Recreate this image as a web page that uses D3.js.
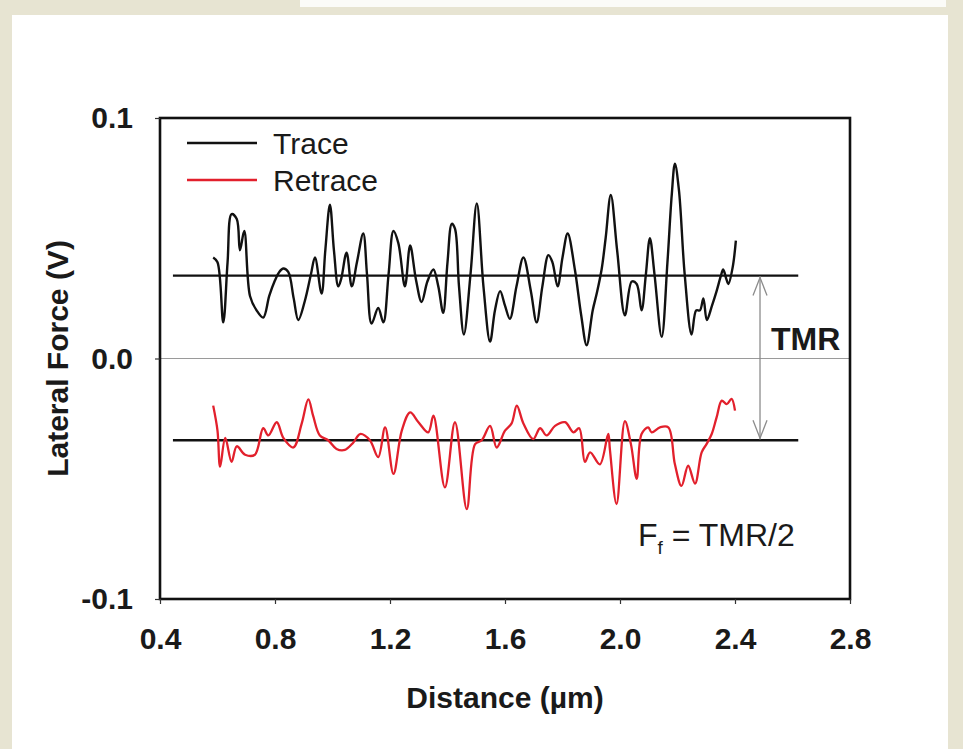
<!DOCTYPE html>
<html>
<head>
<meta charset="utf-8">
<script src="https://cdn.jsdelivr.net/npm/d3@7"></script>
<style>
  html, body { margin: 0; padding: 0; background: #e7e4d2; }
  svg { display: block; }
  text { font-family: Arial, "Liberation Sans", sans-serif; }
</style>
</head>
<body>
<svg id="chart" width="963" height="749"></svg>
<script>
// ---------- data ----------
const xTicks = [0.4, 0.8, 1.2, 1.6, 2.0, 2.4, 2.8];
const yTicks = [-0.1, 0.0, 0.1];
const seriesNames = ["Trace", "Retrace"];

const traceX = [0.585,0.600,0.620,0.635,0.649,0.667,0.678,0.693,0.713,0.736,0.759,0.780,0.800,0.815,0.829,0.846,0.865,0.881,0.904,0.925,0.939,0.962,0.975,0.991,1.005,1.020,1.030,1.049,1.067,1.085,1.107,1.120,1.136,1.159,1.177,1.195,1.212,1.229,1.252,1.270,1.290,1.310,1.330,1.351,1.368,1.385,1.400,1.415,1.426,1.440,1.457,1.480,1.502,1.525,1.548,1.565,1.583,1.600,1.617,1.640,1.664,1.690,1.710,1.730,1.751,1.765,1.783,1.800,1.818,1.843,1.865,1.884,1.905,1.919,1.936,1.950,1.968,1.990,2.017,2.041,2.058,2.075,2.090,2.104,2.120,2.145,2.165,2.180,2.191,2.205,2.225,2.249,2.265,2.278,2.290,2.302,2.320,2.336,2.350,2.359,2.370,2.377,2.392,2.403];
const traceY = [0.042,0.040,0.015,0.040,0.060,0.058,0.045,0.053,0.026,0.020,0.017,0.026,0.0325,0.036,0.0374,0.036,0.025,0.016,0.024,0.035,0.042,0.027,0.045,0.064,0.045,0.030,0.033,0.044,0.030,0.040,0.052,0.035,0.0145,0.021,0.015,0.035,0.053,0.048,0.030,0.047,0.033,0.0235,0.032,0.037,0.030,0.019,0.040,0.056,0.054,0.030,0.010,0.035,0.0645,0.030,0.007,0.020,0.028,0.022,0.0165,0.030,0.042,0.028,0.015,0.030,0.043,0.040,0.030,0.042,0.052,0.037,0.018,0.0055,0.020,0.027,0.037,0.050,0.068,0.045,0.018,0.032,0.031,0.020,0.035,0.050,0.035,0.009,0.040,0.068,0.081,0.070,0.035,0.010,0.020,0.020,0.025,0.016,0.022,0.028,0.034,0.037,0.033,0.031,0.038,0.049];

const retraceX = [0.585,0.600,0.609,0.627,0.649,0.667,0.696,0.730,0.759,0.777,0.806,0.829,0.864,0.893,0.916,0.933,0.956,0.985,1.014,1.043,1.072,1.096,1.130,1.159,1.183,1.212,1.241,1.270,1.299,1.333,1.351,1.391,1.426,1.467,1.496,1.519,1.548,1.571,1.600,1.623,1.641,1.664,1.698,1.722,1.745,1.774,1.809,1.838,1.858,1.878,1.896,1.930,1.959,1.965,1.988,2.017,2.038,2.058,2.075,2.098,2.110,2.139,2.168,2.191,2.214,2.237,2.261,2.284,2.301,2.319,2.336,2.354,2.371,2.388,2.400];
const retraceY = [-0.0196,-0.030,-0.045,-0.033,-0.043,-0.0365,-0.040,-0.040,-0.029,-0.032,-0.0265,-0.033,-0.037,-0.027,-0.017,-0.024,-0.032,-0.034,-0.0376,-0.038,-0.035,-0.0314,-0.034,-0.041,-0.0286,-0.048,-0.030,-0.0224,-0.0265,-0.0307,-0.0238,-0.0536,-0.0265,-0.0626,-0.0356,-0.034,-0.028,-0.037,-0.030,-0.027,-0.0196,-0.027,-0.0335,-0.029,-0.032,-0.028,-0.0265,-0.0307,-0.029,-0.043,-0.039,-0.044,-0.0314,-0.038,-0.0605,-0.026,-0.0356,-0.050,-0.0314,-0.0286,-0.0307,-0.0286,-0.0286,-0.044,-0.053,-0.0446,-0.052,-0.039,-0.0356,-0.0314,-0.0245,-0.0175,-0.019,-0.0168,-0.0217];

// mean levels (horizontal reference lines) and their x extent
const meanLevels = [0.0345, -0.034];
const meanExtent = [0.445, 2.62];
const tmrArrowX = 2.487;

// ---------- layout ----------
const svg = d3.select("#chart");
const W = 963, H = 749;
const plot = { left: 160, right: 850, top: 118, bottom: 599 };
const FONT = 'Arial, "Liberation Sans", sans-serif';

// background: beige paper with a white panel
svg.append("rect").attr("width", W).attr("height", H).attr("fill", "#e7e4d2");
svg.append("rect").attr("x", 300).attr("y", 0).attr("width", 646).attr("height", 7).attr("fill", "#fbfbf8");
svg.append("rect").attr("x", 12).attr("y", 15).attr("width", 936).attr("height", H - 15).attr("fill", "#ffffff");

const x = d3.scaleLinear().domain([0.4, 2.8]).range([plot.left, plot.right]);
const y = d3.scaleLinear().domain([-0.1, 0.1]).range([plot.bottom, plot.top]);

// zero line
svg.append("line")
  .attr("x1", x(0.4)).attr("x2", x(2.8))
  .attr("y1", y(0)).attr("y2", y(0))
  .attr("stroke", "#9a9a9a").attr("stroke-width", 1.2);

// mean lines
meanLevels.forEach(m => {
  svg.append("line")
    .attr("x1", x(meanExtent[0])).attr("x2", x(meanExtent[1]))
    .attr("y1", y(m)).attr("y2", y(m))
    .attr("stroke", "#111").attr("stroke-width", 2.3);
});

// series
const line = d3.line().x(d => x(d[0])).y(d => y(d[1])).curve(d3.curveCatmullRom.alpha(0.5));
const traceData = traceX.map((v, i) => [v, traceY[i]]);
const retraceData = retraceX.map((v, i) => [v, retraceY[i]]);

svg.append("path").datum(retraceData).attr("d", line)
  .attr("fill", "none").attr("stroke", "#e2202c").attr("stroke-width", 2.3).attr("stroke-linejoin", "round");
svg.append("path").datum(traceData).attr("d", line)
  .attr("fill", "none").attr("stroke", "#111").attr("stroke-width", 2.4).attr("stroke-linejoin", "round");

// TMR double arrow
const ax = x(tmrArrowX);
const ay1 = y(meanLevels[0]), ay2 = y(meanLevels[1]);
const arrowG = svg.append("g").attr("stroke", "#8c8c8c").attr("stroke-width", 1.3).attr("fill", "none");
arrowG.append("line").attr("x1", ax).attr("x2", ax).attr("y1", ay1 + 1).attr("y2", ay2 - 1);
arrowG.append("path").attr("d", `M${ax - 7},${ay1 + 20} L${ax},${ay1 + 2} L${ax + 7},${ay1 + 20}`);
arrowG.append("path").attr("d", `M${ax - 7},${ay2 - 20} L${ax},${ay2 - 2} L${ax + 7},${ay2 - 20}`);

// frame
svg.append("rect")
  .attr("x", plot.left).attr("y", plot.top)
  .attr("width", plot.right - plot.left).attr("height", plot.bottom - plot.top)
  .attr("fill", "none").attr("stroke", "#111").attr("stroke-width", 2.6);

// axes
const fmt = d => d.toFixed(1);
const xAxis = svg.append("g").attr("transform", `translate(0,${plot.bottom})`)
  .call(d3.axisBottom(x).tickValues(xTicks).tickFormat(fmt).tickSize(5).tickSizeOuter(0).tickPadding(24));
const yAxis = svg.append("g").attr("transform", `translate(${plot.left},0)`)
  .call(d3.axisLeft(y).tickValues(yTicks).tickFormat(fmt).tickSize(5).tickSizeOuter(0).tickPadding(22));
[xAxis, yAxis].forEach(g => {
  g.select(".domain").remove();
  g.selectAll(".tick line").attr("stroke", "#333").attr("stroke-width", 1.2);
  g.selectAll("text").attr("font-size", 30).attr("font-weight", "bold").attr("fill", "#1a1a1a")
    .attr("font-family", FONT);
});

// axis titles
svg.append("text")
  .attr("x", (plot.left + plot.right) / 2).attr("y", 708)
  .attr("text-anchor", "middle").attr("font-size", 30).attr("font-weight", "bold").attr("fill", "#1a1a1a")
  .text("Distance (\u00b5m)");
svg.append("text")
  .attr("transform", `translate(68,${y(0)}) rotate(-90)`)
  .attr("text-anchor", "middle").attr("font-size", 30).attr("font-weight", "bold").attr("fill", "#1a1a1a")
  .text("Lateral Force (V)");

// legend
const legendColors = ["#111", "#e2202c"];
seriesNames.forEach((name, i) => {
  const ly = 143 + i * 37;
  svg.append("line").attr("x1", 187).attr("x2", 257).attr("y1", ly).attr("y2", ly)
    .attr("stroke", legendColors[i]).attr("stroke-width", 2.4);
  svg.append("text").attr("x", 273).attr("y", ly + 11)
    .attr("font-size", 30).attr("fill", "#1a1a1a").text(name);
});

// annotations
svg.append("text").attr("x", 771).attr("y", 350)
  .attr("font-size", 32).attr("font-weight", "bold").attr("fill", "#1a1a1a").text("TMR");
const ff = svg.append("text").attr("x", 638).attr("y", 546).attr("font-size", 32).attr("fill", "#1a1a1a");
ff.append("tspan").text("F");
ff.append("tspan").attr("font-size", 19).attr("dy", 8).text("f");
ff.append("tspan").attr("dy", -8).text(" = TMR/2");
</script>
</body>
</html>
